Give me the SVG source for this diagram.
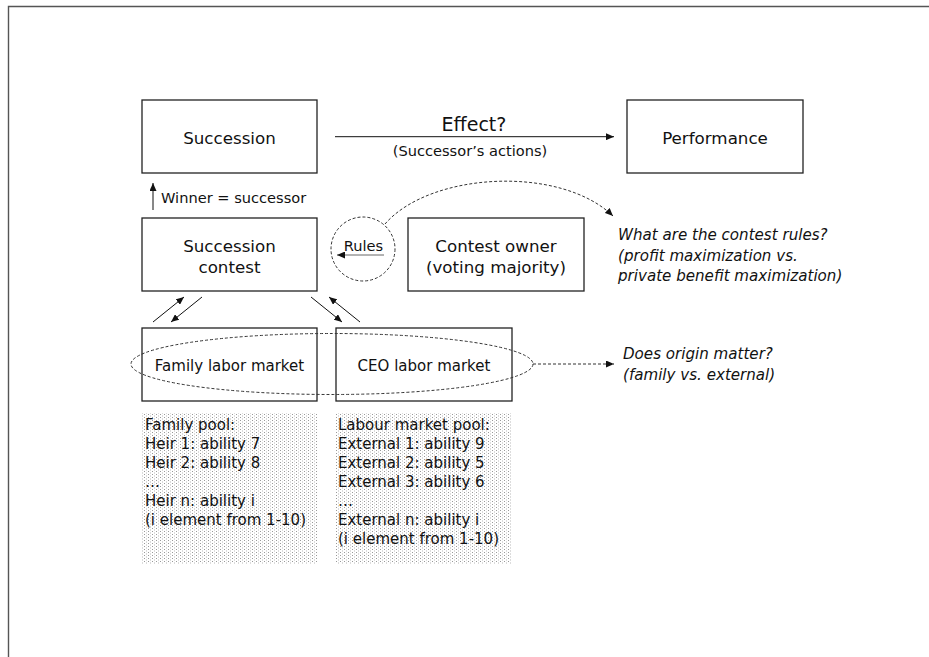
<svg xmlns="http://www.w3.org/2000/svg" width="929" height="657" viewBox="0 0 929 657">
<defs>
<style>
text{font-family:"DejaVu Sans","Liberation Sans",sans-serif;fill:#111;}
.box{fill:#fff;stroke:#222;stroke-width:1.3;}
.lbl{font-size:16.7px;text-anchor:middle;}
.sm{font-size:14.6px;}
.it{font-size:15.1px;font-style:italic;}
.pool{font-size:15px;}
.ln{stroke:#111;stroke-width:1;fill:none;}
.dash{stroke:#333;stroke-width:1;fill:none;stroke-dasharray:3,2;}
</style>
<marker id="ah" markerUnits="userSpaceOnUse" markerWidth="9" markerHeight="7" refX="8" refY="3.5" orient="auto">
<path d="M0,0 L8,3.5 L0,7 z" fill="#111"/>
</marker>
<pattern id="dots" patternUnits="userSpaceOnUse" width="4" height="3">
<rect width="4" height="3" fill="#fff"/>
<rect x="0" y="0" width="1" height="1" fill="#999"/>
<rect x="2" y="1" width="1" height="1" fill="#dcdcdc"/>
<rect x="2" y="2" width="1" height="1" fill="#dcdcdc"/>
</pattern>
</defs>
<rect width="929" height="657" fill="#fff"/>
<path d="M8.5,657 L8.5,6.5 L929,6.5" fill="none" stroke="#555" stroke-width="1.4"/>

<g id="connectors">
<line class="ln" x1="335" y1="136.7" x2="614" y2="136.7" marker-end="url(#ah)"/>
<line class="ln" x1="153" y1="210" x2="153" y2="183" marker-end="url(#ah)"/>
<line x1="384" y1="255" x2="337" y2="255" stroke="#666" stroke-width="1" marker-end="url(#ah)"/>
<path class="dash" d="M385,224 C430,172 560,165 613,216" marker-end="url(#ah)"/>
<line class="ln" x1="153" y1="322" x2="184" y2="297" marker-end="url(#ah)"/>
<line class="ln" x1="202" y1="297" x2="171" y2="322" marker-end="url(#ah)"/>
<line class="ln" x1="311" y1="297" x2="342" y2="322" marker-end="url(#ah)"/>
<line class="ln" x1="360" y1="322" x2="329" y2="297" marker-end="url(#ah)"/>
<line class="dash" x1="533" y1="364" x2="614" y2="364" marker-end="url(#ah)"/>
<text x="474" y="131" style="font-size:19px;text-anchor:middle">Effect?</text>
<text x="470" y="156" class="sm" style="text-anchor:middle">(Successor’s actions)</text>
<text x="161" y="203" class="sm">Winner = successor</text>
</g>

<g id="succession">
<rect class="box" x="142" y="100" width="175" height="73"/>
<text class="lbl" x="229.5" y="144">Succession</text>
</g>
<g id="performance">
<rect class="box" x="627" y="100" width="176" height="73"/>
<text class="lbl" x="715" y="144">Performance</text>
</g>
<g id="succession-contest">
<rect class="box" x="142" y="218" width="175" height="73"/>
<text class="lbl" x="229.5" y="252">Succession</text>
<text class="lbl" x="229.5" y="273">contest</text>
</g>
<g id="rules">
<circle class="dash" cx="363" cy="249" r="32"/>
<text class="sm" x="363.5" y="251" style="text-anchor:middle">Rules</text>
</g>
<g id="contest-owner">
<rect class="box" x="408" y="218" width="176" height="73"/>
<text class="lbl" x="496" y="252">Contest owner</text>
<text class="lbl" x="496" y="273">(voting majority)</text>
</g>
<g id="question-rules">
<text class="it" x="618" y="240">What are the contest rules?</text>
<text class="it" x="618" y="261">(profit maximization vs.</text>
<text class="it" x="618" y="281">private benefit maximization)</text>
</g>
<g id="family-market">
<rect class="box" x="142" y="328" width="175" height="73"/>
<text x="229.5" y="371" style="font-size:15px;text-anchor:middle">Family labor market</text>
</g>
<g id="ceo-market">
<rect class="box" x="336" y="328" width="176" height="73"/>
<text x="424" y="371" style="font-size:15px;text-anchor:middle">CEO labor market</text>
</g>
<g id="origin-group">
<ellipse class="dash" cx="332" cy="364" rx="201" ry="30.5"/>
</g>
<g id="question-origin">
<text class="it" x="623" y="359">Does origin matter?</text>
<text class="it" x="623" y="380">(family vs. external)</text>
</g>
<g id="family-pool">
<rect x="142" y="413" width="175" height="151" fill="url(#dots)"/>
<text class="pool" x="145" y="430">Family pool:</text>
<text class="pool" x="145" y="449">Heir 1: ability 7</text>
<text class="pool" x="145" y="468">Heir 2: ability 8</text>
<text class="pool" x="145" y="487">…</text>
<text class="pool" x="145" y="506">Heir n: ability i</text>
<text class="pool" x="145" y="525">(i element from 1-10)</text>
</g>
<g id="labour-pool">
<rect x="336" y="413" width="176" height="151" fill="url(#dots)"/>
<text class="pool" x="338" y="430">Labour market pool:</text>
<text class="pool" x="338" y="449">External 1: ability 9</text>
<text class="pool" x="338" y="468">External 2: ability 5</text>
<text class="pool" x="338" y="487">External 3: ability 6</text>
<text class="pool" x="338" y="506">…</text>
<text class="pool" x="338" y="525">External n: ability i</text>
<text class="pool" x="338" y="544">(i element from 1-10)</text>
</g>
</svg>
